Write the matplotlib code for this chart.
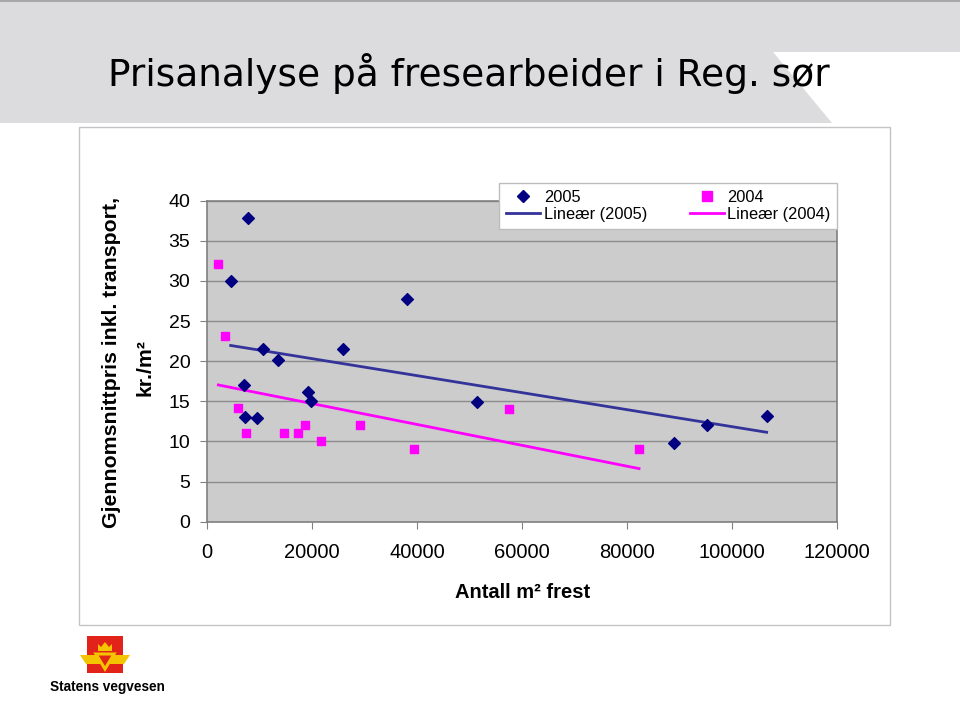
import numpy as np
import matplotlib
matplotlib.use("Agg")
import matplotlib.pyplot as plt
from matplotlib.patches import Rectangle, Polygon
from matplotlib.lines import Line2D

# data (x = antall m2 frest, y = kr./m2)
x_2005 = [4510, 6990, 7300, 7870, 9520, 10730, 13520, 19180, 19750, 25970, 38160, 51430, 88890, 95300, 106600]
y_2005 = [30.0, 17.0, 13.1, 37.9, 12.9, 21.5, 20.1, 16.1, 15.1, 21.5, 27.8, 14.9, 9.8, 12.1, 13.2]

x_2004 = [2160, 3430, 5970, 7360, 14670, 17330, 18600, 21650, 29140, 39360, 57590, 82290]
y_2004 = [32.1, 23.1, 14.2, 11.05, 11.05, 11.05, 12.0, 10.05, 12.0, 9.1, 14.1, 9.1]

x_ticks = [0, 20000, 40000, 60000, 80000, 100000, 120000]
y_ticks = [0, 5, 10, 15, 20, 25, 30, 35, 40]

title = "Prisanalyse på fresearbeider i Reg. sør"
ylabel_1 = "Gjennomsnittpris inkl. transport,"
ylabel_2 = "kr./m²"
xlabel = "Antall m² frest"

plt.rcParams["font.family"] = ["Liberation Sans", "DejaVu Sans"]

W, H = 960, 720
fig = plt.figure(figsize=(W / 100, H / 100), dpi=100)

# background layer in pixel coordinates (header band, frame, logo)
bg = fig.add_axes([0, 0, 1, 1])
bg.set_xlim(0, W)
bg.set_ylim(H, 0)
bg.axis("off")

band = Polygon([(0, 0), (W, 0), (W, 52), (773, 52), (832, 123), (0, 123)],
               closed=True, facecolor="#dcdcde", edgecolor="none")
bg.add_patch(band)
bg.plot([0, W], [1, 1], color="#a8a8a8", lw=1.5)
bg.text(108, 86, title, fontsize=27, family="DejaVu Sans", color="black", va="baseline", ha="left")

# chart frame
bg.add_patch(Rectangle((79, 127), 811, 498, facecolor="none", edgecolor="#c4c4c4", lw=1))

# logo (Statens vegvesen)
bg.add_patch(Rectangle((87, 636), 36, 37, facecolor="#e2231a", edgecolor="none"))
bg.add_patch(Polygon([(80, 655), (98, 655), (102, 664), (86, 664)], facecolor="#f5c400", edgecolor="none"))
bg.add_patch(Polygon([(130, 655), (112, 655), (108, 664), (124, 664)], facecolor="#f5c400", edgecolor="none"))
bg.add_patch(Polygon([(96, 654), (114, 654), (105, 669)], facecolor="none", edgecolor="#f5c400", lw=2.2))
bg.add_patch(Polygon([(98, 651), (98, 644), (101, 647), (105, 642), (109, 647), (112, 644), (112, 651)],
                     facecolor="#f5c400", edgecolor="none"))
bg.text(50, 687, "Statens vegvesen", fontsize=9.8, fontweight="bold", va="center", ha="left")

# main plot area
ax = fig.add_axes([207 / W, 1 - 521.7 / H, 630 / W, 321 / H])
ax.set_facecolor("#cccccc")

ax.scatter(x_2005, y_2005, marker="D", s=36, color="#000080", zorder=3)
ax.scatter(x_2004, y_2004, marker="s", s=40, color="#ff00ff", zorder=3)

# linear trend lines, over the range of each series
for xs, ys, c in [(x_2005, y_2005, "#333399"), (x_2004, y_2004, "#ff00ff")]:
    k, m = np.polyfit(xs, ys, 1)
    xx = np.array([min(xs), max(xs)])
    ax.plot(xx, k * xx + m, color=c, lw=2.0, zorder=2)

ax.set_xlim(0, 120000)
ax.set_ylim(0, 40)
ax.set_xticks(x_ticks)
ax.set_yticks(y_ticks)
ax.set_xticklabels([str(v) for v in x_ticks])
ax.set_yticklabels([str(v) for v in y_ticks])
ax.grid(axis="y", color="#8c8c8c", lw=1)
ax.set_axisbelow(True)
for s in ax.spines.values():
    s.set_color("#808080")
    s.set_linewidth(1.2)
ax.tick_params(axis="x", length=5, color="#808080", labelsize=14.5, pad=10)
ax.tick_params(axis="y", length=5, color="#808080", labelsize=14, pad=7)

fig.text(523 / W, 1 - 592 / H, xlabel, fontsize=14.5, fontweight="bold", ha="center", va="center")
fig.text(112 / W, 1 - 362 / H, ylabel_1, fontsize=15.3, fontweight="bold", rotation=90, ha="center", va="center")
fig.text(145 / W, 1 - 367 / H, ylabel_2, fontsize=15.3, fontweight="bold", rotation=90, ha="center", va="center")

# legend
handles = [
    Line2D([], [], marker="D", ls="none", color="#000080", markersize=6),
    Line2D([], [], color="#333399", lw=2.0),
    Line2D([], [], marker="s", ls="none", color="#ff00ff", markersize=6.5),
    Line2D([], [], color="#ff00ff", lw=2.0),
]
labels = ["2005", "Lineær (2005)", "2004", "Lineær (2004)"]
leg = fig.legend(handles, labels, ncol=2, loc="upper right", bbox_to_anchor=(837 / W, 1 - 183 / H),
                 fontsize=11.8, frameon=True, fancybox=False, edgecolor="#bdbdbd", framealpha=1,
                 handlelength=2.1, handletextpad=0.2, columnspacing=2.6, labelspacing=0.15,
                 borderpad=0.4, borderaxespad=0)
leg.get_frame().set_linewidth(1)

fig.savefig("out.png", dpi=100)
